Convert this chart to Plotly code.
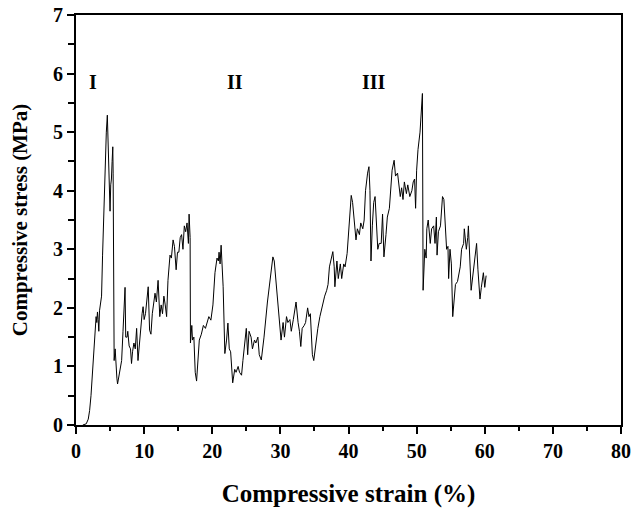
import plotly.graph_objects as go

strain = [1.0, 1.5, 1.8, 2.0, 2.2, 2.4, 2.6, 2.8, 2.95, 3.05, 3.15, 3.25, 3.35, 3.45, 3.6, 3.75, 3.9, 4.1, 4.3, 4.45, 4.6, 4.75, 4.9, 5.0, 5.1, 5.2, 5.3, 5.4, 5.45,
          5.5, 5.6, 5.75, 5.85, 6.0, 6.1, 6.3, 6.5, 6.7, 6.9, 7.1, 7.2, 7.3, 7.5, 7.6, 7.8, 8.0, 8.15, 8.3, 8.5, 8.7, 8.9, 9.1, 9.3, 9.5, 9.7, 9.85,
          10.0, 10.2, 10.4, 10.6, 10.8, 11.0, 11.2, 11.4, 11.6, 11.8, 12.05, 12.3, 12.5, 12.7, 12.9, 13.1, 13.3, 13.5, 13.8, 14.0, 14.25, 14.45,
          14.7, 14.9, 15.1, 15.3, 15.5, 15.7, 15.9, 16.1, 16.3, 16.5, 16.6, 16.75, 16.8, 17.0, 17.1, 17.3, 17.5, 17.7, 17.9, 18.1, 18.4, 18.7,
          19.0, 19.3, 19.5, 19.8, 20.1, 20.4, 20.7, 20.9, 21.0, 21.15, 21.3, 21.6, 21.85, 22.1, 22.3, 22.5, 22.7, 23.0, 23.3, 23.5, 23.8, 24.0,
          24.3, 24.5, 24.8, 25.0, 25.2, 25.4, 25.7, 25.9, 26.2, 26.4, 26.7, 26.9, 27.2, 27.6, 28.1, 28.6, 28.9, 29.1, 29.4, 29.7, 30.1, 30.4,
          30.6, 30.9, 31.1, 31.4, 31.6, 31.9, 32.1, 32.3, 32.6, 32.8, 33.0, 33.2, 33.5, 33.7, 34.0, 34.2, 34.4, 34.7, 34.9, 35.1, 35.5, 35.8,
          36.0, 36.3, 36.5, 36.8, 37.0, 37.2, 37.5, 37.7, 37.9, 38.0, 38.3, 38.5, 38.8, 39.0, 39.3, 39.5, 39.8, 40.1, 40.4, 40.6, 40.8, 41.1,
          41.3, 41.6, 41.8, 42.1, 42.3, 42.5, 42.8, 43.0, 43.15, 43.3, 43.5, 43.7, 43.9, 44.1, 44.3, 44.5, 44.8, 45.0, 45.2, 45.5, 45.7, 46.0,
          46.2, 46.4, 46.7, 46.9, 47.2, 47.4, 47.6, 47.8, 48.0, 48.2, 48.5, 48.7, 49.0, 49.3, 49.5, 49.7, 49.85, 50.0, 50.2, 50.5, 50.7, 50.85,
          50.95, 51.2, 51.4, 51.5, 51.7, 51.9, 52.0, 52.2, 52.5, 52.7, 52.9, 53.0, 53.2, 53.5, 53.6, 53.8, 54.0, 54.2, 54.4, 54.6, 54.7, 54.9,
          55.1, 55.3, 55.5, 55.7, 56.0, 56.2, 56.4, 56.6, 56.9, 57.0, 57.3, 57.5, 57.6, 58.0, 58.3, 58.6, 58.8, 59.0, 59.3, 59.5, 59.7, 59.8,
          60.0, 60.2]

stress = [0.0, 0.02, 0.1, 0.25, 0.5, 0.9, 1.35, 1.7, 1.85, 1.75, 1.93, 1.8, 1.6, 1.95, 2.05, 2.2, 2.9, 3.7, 4.6, 5.0, 5.29, 4.5, 3.72, 3.65, 4.1, 4.2, 4.5, 4.75, 4.3,
          1.55, 1.1, 1.3, 1.0, 0.8, 0.7, 0.85, 1.0, 1.1, 1.6, 2.1, 2.35, 1.5, 1.5, 1.6, 1.35, 1.3, 1.05, 1.25, 1.4, 1.3, 1.65, 1.1, 1.4, 1.55, 1.9, 2.02,
          1.8, 1.9, 2.1, 2.36, 1.62, 1.55, 1.9, 2.05, 2.25, 2.1, 2.47, 1.85, 2.05, 1.9, 2.2, 2.05, 1.85, 2.47, 2.9, 2.85, 3.16, 3.05,
          2.65, 2.95, 2.95, 3.2, 3.25, 3.0, 3.4, 3.3, 3.45, 3.1, 3.6, 3.2, 1.4, 1.7, 1.45, 1.5, 0.9, 0.75, 1.1, 1.45, 1.55, 1.7,
          1.65, 1.8, 1.85, 1.79, 2.05, 2.6, 2.85, 2.8, 2.95, 2.75, 3.07, 2.36, 1.22, 1.45, 1.74, 1.3, 1.25, 0.72, 0.95, 0.9, 1.0, 0.9,
          0.85, 1.1, 1.45, 1.65, 1.2, 1.6, 1.5, 1.3, 1.45, 1.4, 1.5, 1.2, 1.11, 1.5, 2.1, 2.6, 2.87, 2.8, 2.4, 1.9, 1.45, 1.75,
          1.5, 1.85, 1.75, 1.8, 1.6, 1.8, 1.95, 2.1, 1.75, 1.6, 1.34, 1.65, 1.7, 1.75, 2.0, 1.85, 1.9, 1.2, 1.1, 1.3, 1.65, 1.85,
          1.95, 2.15, 2.2, 2.3, 2.4, 2.7, 2.85, 2.96, 2.7, 2.36, 2.8, 2.5, 2.75, 2.5, 2.75, 2.7, 2.93, 3.5, 3.92, 3.8, 3.5, 3.16,
          3.35, 3.25, 3.45, 3.35, 3.5, 4.0, 4.3, 4.41, 4.0, 2.8, 3.4, 3.8, 3.9, 3.4, 3.0, 3.1, 3.1, 3.6, 2.87, 3.25, 3.55, 3.7,
          4.1, 4.35, 4.52, 4.25, 4.3, 4.1, 3.9, 4.05, 3.85, 4.15, 3.95, 4.1, 3.9, 4.0, 4.15, 4.2, 3.7, 4.35, 4.7, 5.0, 5.4, 5.66,
          2.3, 3.0, 2.85, 3.35, 3.5, 3.2, 3.1, 3.35, 3.4, 3.1, 3.55, 2.9, 3.3, 3.4, 3.55, 3.9, 3.85, 3.5, 3.0, 3.05, 2.5, 3.0,
          2.75, 1.85, 2.1, 2.4, 2.45, 2.55, 2.7, 3.0, 3.1, 3.35, 3.0, 3.2, 3.4, 2.3, 2.6, 2.85, 3.1, 2.65, 2.15, 2.35, 2.5, 2.6,
          2.35, 2.55]

region_labels = ["I", "II", "III"]
region_x = [2.5, 23.3, 43.8]
region_y = [5.85, 5.85, 5.85]

font_family = "Liberation Serif, Times New Roman, serif"

fig = go.Figure()
fig.add_trace(go.Scatter(x=strain, y=stress, mode="lines",
                         line=dict(color="black", width=1), showlegend=False,
                         hoverinfo="skip"))

for lbl, lx, ly in zip(region_labels, region_x, region_y):
    fig.add_annotation(x=lx, y=ly, text="<b>%s</b>" % lbl, showarrow=False,
                       font=dict(family=font_family, size=20, color="black"))

axis_common = dict(
    showline=True, linecolor="black", linewidth=2, mirror=True,
    ticks="outside", tickcolor="black", tickwidth=2, ticklen=7,
    showgrid=False, zeroline=False, automargin=False,
    ticklabeloverflow="allow",
    tickfont=dict(family=font_family, size=20, color="black"),
)

fig.update_xaxes(range=[0, 80], tick0=0, dtick=10,
                 minor=dict(ticks="outside", dtick=5, ticklen=4, tickwidth=2, tickcolor="black"),
                 title=dict(text="<b>Compressive strain (%)</b>", standoff=23,
                            font=dict(family=font_family, size=25, color="black")),
                 tickprefix="<b>", ticksuffix="</b>",
                 **axis_common)
fig.update_yaxes(range=[0, 7], tick0=0, dtick=1,
                 minor=dict(ticks="outside", dtick=0.5, ticklen=6, tickwidth=2, tickcolor="black"),
                 title=dict(text="<b>Compressive stress (MPa)</b>", standoff=20,
                            font=dict(family=font_family, size=21, color="black")),
                 tickprefix="<b>", ticksuffix="</b>",
                 **axis_common)

fig.update_layout(
    width=631, height=509,
    margin=dict(l=76, r=10, t=15, b=84),
    plot_bgcolor="white", paper_bgcolor="white",
)

fig.write_html("out.html", config={"displayModeBar": False},
               post_script="document.body.style.margin='0';document.body.style.padding='0';document.body.style.overflow='hidden';")
